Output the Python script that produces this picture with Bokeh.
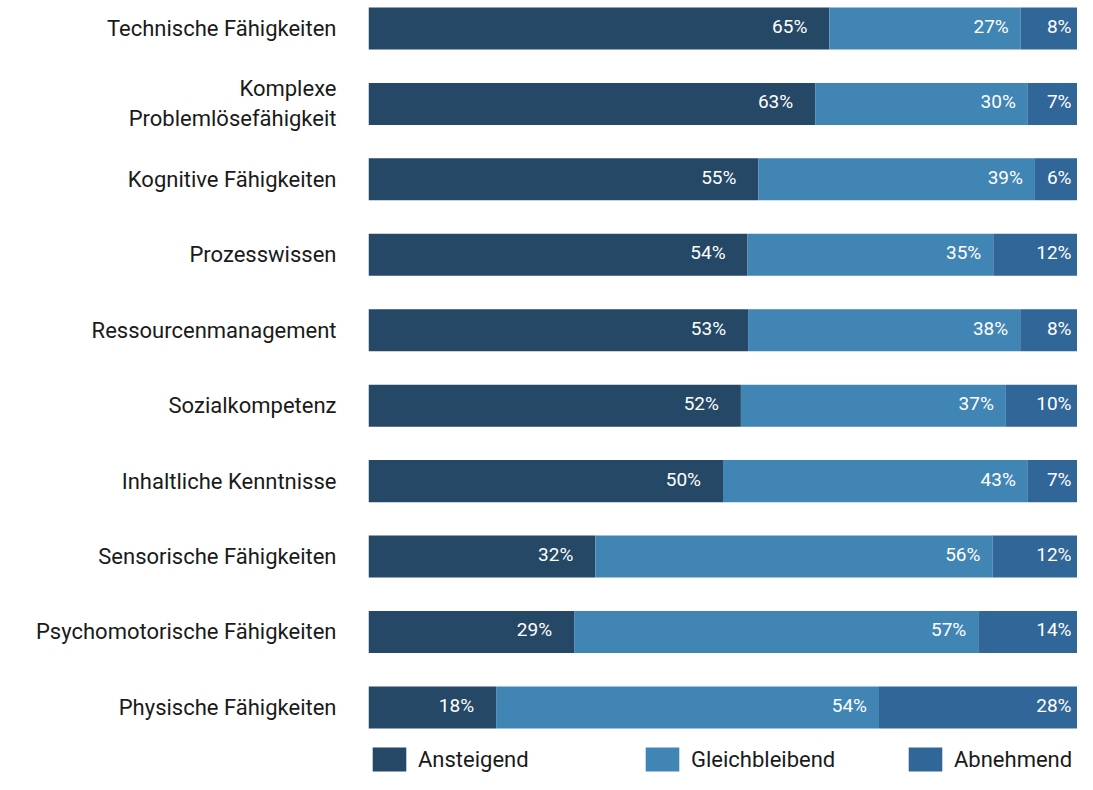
from bokeh.plotting import figure
from bokeh.models import ColumnDataSource, Range1d, FixedTicker, Legend, LegendItem
from bokeh.core.properties import value
from bokeh.embed import file_html
from bokeh.resources import INLINE

categories = ["Technische Fähigkeiten", "Komplexe\nProblemlösefähigkeit", "Kognitive Fähigkeiten",
              "Prozesswissen", "Ressourcenmanagement", "Sozialkompetenz", "Inhaltliche Kenntnisse",
              "Sensorische Fähigkeiten", "Psychomotorische Fähigkeiten", "Physische Fähigkeiten"]
ansteigend = [65, 63, 55, 54, 53, 52, 50, 32, 29, 18]
gleichbleibend = [27, 30, 39, 35, 38, 37, 43, 56, 57, 54]
abnehmend = [8, 7, 6, 12, 8, 10, 7, 12, 14, 28]
series_names = ["Ansteigend", "Gleichbleibend", "Abnehmend"]
colors = ["#244866", "#4185b5", "#316699"]

FONT = "Roboto"
n = len(categories)
ys = [n - 1 - i for i in range(n)]
tot = [a + g + b for a, g, b in zip(ansteigend, gleichbleibend, abnehmend)]
fa = [a / t for a, t in zip(ansteigend, tot)]
fg = [g / t for g, t in zip(gleichbleibend, tot)]
fb = [b / t for b, t in zip(abnehmend, tot)]

src = ColumnDataSource(dict(y=ys, a=fa, g=fg, b=fb))

p = figure(width=1077, height=774, x_range=Range1d(0, 1), y_range=Range1d(-0.889, 9.371),
           output_backend="svg", toolbar_location=None, x_axis_location=None,
           min_border_left=368, min_border_right=0, min_border_top=0, min_border_bottom=0)
p.grid.visible = False
p.outline_line_color = None

rs = p.hbar_stack(["a", "g", "b"], y="y", height=0.557, color=colors, line_color=None, source=src)

# value labels
ends = [[], [], []]
for i in range(n):
    c = 0
    for k, f in enumerate((fa[i], fg[i], fb[i])):
        c += f
        ends[k].append(c)
vals = [ansteigend, gleichbleibend, abnehmend]
offsets = [-22, -12, -6]
for k in range(3):
    ls = ColumnDataSource(dict(x=ends[k], y=ys, t=[f"{v}%" for v in vals[k]]))
    p.text(x="x", y="y", text="t", source=ls, text_align="right", text_baseline="middle",
           x_offset=offsets[k], y_offset=-2, text_color="white", text_font_size="19px",
           text_font=value(FONT))

ax = p.yaxis[0]
ax.ticker = FixedTicker(ticks=ys)
ax.major_label_overrides = {y: c for y, c in zip(ys, categories)}
ax.axis_line_color = None
ax.major_tick_line_color = None
ax.minor_tick_line_color = None
ax.major_label_standoff = 26
ax.major_label_text_font = FONT
ax.major_label_text_font_size = "22px"
ax.major_label_text_color = "#1a1a1a"

xs = [0, 273, 536]
for k in range(3):
    lg = Legend(items=[LegendItem(label=series_names[k], renderers=[rs[k]])],
                location=(xs[k], 0), orientation="horizontal",
                glyph_width=42, glyph_height=30, label_standoff=8,
                label_text_font=FONT, label_text_font_size="22px", label_text_color="#1a1a1a",
                padding=0, margin=0, border_line_alpha=0, background_fill_alpha=0,
                label_height=30)
    p.add_layout(lg, "center")

open("out.html", "w").write(file_html(p, INLINE))
